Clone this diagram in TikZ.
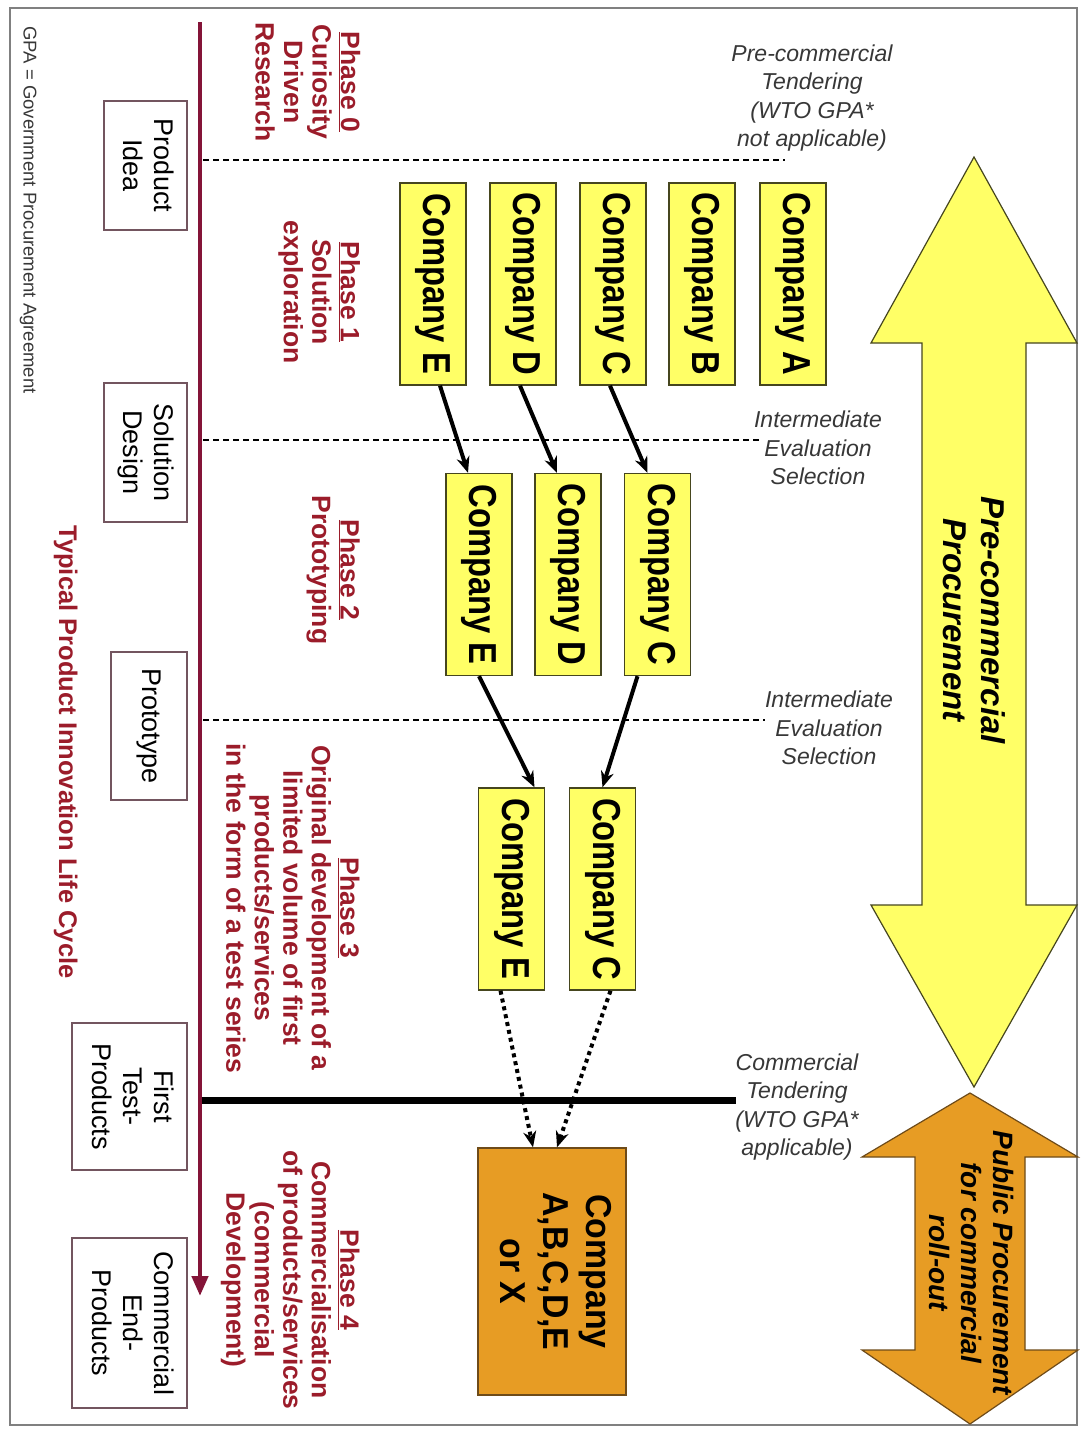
\documentclass[tikz,border=0pt]{standalone}
\usepackage{fontspec}
\setmainfont{Liberation Sans}
\usepackage{graphicx}
\usepackage{tikz}
\usetikzlibrary{arrows.meta,positioning,calc}

\definecolor{phasered}{RGB}{155,28,42}
\definecolor{lifered}{RGB}{132,20,56}
\definecolor{compyellow}{RGB}{255,255,102}
\definecolor{compedge}{RGB}{70,70,30}
\definecolor{winorange}{RGB}{231,156,36}
\definecolor{winedge}{RGB}{110,75,25}
\definecolor{stageedge}{RGB}{115,85,95}
\definecolor{labelgray}{RGB}{55,55,55}

% text turned to read from top to bottom; #1 squeezes it along its length
\newcommand{\vtext}[2][1]{\rotatebox{-90}{\scalebox{#1}[1]{\begin{tabular}{@{}c@{}}#2\end{tabular}}}}

\begin{document}
\begin{tikzpicture}[
    x=1pt, y=-1pt,
    >={Stealth[length=16pt,width=13pt]},
    compbox/.style={draw=compedge,fill=compyellow,line width=1.4pt,inner sep=0pt,
                    minimum width=66pt,minimum height=202pt,
                    font=\bfseries\fontsize{39}{46}\selectfont},
    winbox/.style={draw=winedge,fill=winorange,line width=1.4pt,inner sep=0pt,
                   minimum width=148pt,minimum height=247pt,
                   font=\bfseries\fontsize{36}{43}\selectfont},
    stagebox/.style={draw=stageedge,fill=white,line width=1.4pt,inner sep=0pt,
                     font=\fontsize{27}{31}\selectfont},
    phasetxt/.style={text=phasered,inner sep=0pt,
                     font=\bfseries\fontsize{26.5}{28.5}\selectfont},
    evaltxt/.style={text=labelgray,align=center,inner sep=0pt,
                    font=\itshape\fontsize{23}{28.5}\selectfont},
    bigtxt/.style={inner sep=0pt,font=\bfseries\itshape\fontsize{33}{38}\selectfont},
    flow/.style={->,line width=4pt},
    dotflow/.style={->,line width=4pt,dash pattern=on 4pt off 4pt},
    phaseline/.style={line width=1.2pt,dash pattern=on 6pt off 4pt},
  ]

  \useasboundingbox (0,0) rectangle (1081,1438);
  \draw[gray,line width=1.6pt] (10,8) rectangle (1077,1425);

  % --- life cycle axis and phase borders ---
  \coordinate (lifetop) at (200,22);
  \coordinate (lifeend) at (200,1296);
  \draw[lifered,line width=4.5pt,-{Triangle[length=20pt,width=16pt]}] (lifetop) -- (lifeend);

  \coordinate (b1l) at (203,160);  \coordinate (b1r) at (785,160);
  \coordinate (b2l) at (203,440);  \coordinate (b2r) at (762,440);
  \coordinate (b3l) at (203,720);  \coordinate (b3r) at (765,720);
  \coordinate (b4l) at (202,1100); \coordinate (b4r) at (736,1100);
  \draw[phaseline] (b1l) -- (b1r);
  \draw[phaseline] (b2l) -- (b2r);
  \draw[phaseline] (b3l) -- (b3r);
  \draw[line width=7pt] (b4l) -- (b4r);

  % --- stages of the product ---
  \node[stagebox,minimum width=83pt,minimum height=129pt] (idea)  at (145.5,165.5) {\vtext{Product\\Idea}};
  \node[stagebox,minimum width=83pt,minimum height=139pt] (design) at (145.5,452.5) {\vtext{Solution\\Design}};
  \node[stagebox,minimum width=76pt,minimum height=148pt] (proto) at (149,726)    {\vtext{Prototype}};
  \node[stagebox,minimum width=115pt,minimum height=147pt] (first) at (129.5,1096.5) {\vtext{First\\Test-\\Products}};
  \node[stagebox,minimum width=115pt,minimum height=170pt] (endp) at (129.5,1323) {\vtext{Commercial\\End-\\Products}};

  % --- phase descriptions ---
  \node[phasetxt] (ph0) at (304,82)   {\vtext{\underline{Phase 0}\\Curiosity\\Driven\\Research}};
  \node[phasetxt] (ph1) at (318,292)  {\vtext{\underline{Phase 1}\\Solution\\exploration}};
  \node[phasetxt] (ph2) at (332,570)  {\vtext{\underline{Phase 2}\\Prototyping}};
  \node[phasetxt] (ph3) at (289,908)  {\vtext{\underline{Phase 3}\\Original development of a\\limited volume of first\\products/services\\in the form of a test series}};
  \node[phasetxt] (ph4) at (289,1280) {\vtext{\underline{Phase 4}\\Commercialisation\\of products/services\\(commercial\\Development)}};

  \node[phasetxt,font=\bfseries\fontsize{25.5}{30}\selectfont] (cycle) at (65,752)
    {\vtext{Typical Product Innovation Life Cycle}};
  \node[text=labelgray,inner sep=0pt,font=\fontsize{18.5}{22}\selectfont] (gpa) at (28,210)
    {\vtext{GPA = Government Procurement Agreement}};

  % --- companies, phase by phase ---
  \node[compbox] (c1e) at (433,284) {\vtext[0.84]{Company E}};
  \node[compbox] (c1d) at (523,284) {\vtext[0.84]{Company D}};
  \node[compbox] (c1c) at (613,284) {\vtext[0.84]{Company C}};
  \node[compbox] (c1b) at (702,284) {\vtext[0.84]{Company B}};
  \node[compbox] (c1a) at (793,284) {\vtext[0.84]{Company A}};

  \node[compbox] (c2e) at (479,574.5)   {\vtext[0.84]{Company E}};
  \node[compbox] (c2d) at (568,574.5)   {\vtext[0.84]{Company D}};
  \node[compbox] (c2c) at (657.5,574.5) {\vtext[0.84]{Company C}};

  \node[compbox] (c3e) at (511.5,889) {\vtext[0.84]{Company E}};
  \node[compbox] (c3c) at (602.5,889) {\vtext[0.84]{Company C}};

  \node[winbox] (win) at (552,1271.5) {\vtext[0.94]{Company\\A,B,C,D,E\\or X}};

  \draw[flow] ([xshift=7pt]c1e.south)  -- ([xshift=-11pt]c2e.north);
  \draw[flow] ([xshift=-3pt]c1d.south) -- ([xshift=-11pt]c2d.north);
  \draw[flow] ([xshift=-3pt]c1c.south) -- ([xshift=-10pt]c2c.north);
  \draw[flow] (c2e.south)              -- ([xshift=23pt]c3e.north);
  \draw[flow] ([xshift=-20pt]c2c.south) -- (c3c.north);
  \draw[dotflow] ([xshift=-11pt]c3e.south) -- ([xshift=-19pt]win.north);
  \draw[dotflow] ([xshift=8pt]c3c.south)   -- ([xshift=5pt]win.north);

  % --- selection labels ---
  \node[evaltxt] (tender0) at (812,98)  {Pre-commercial\\Tendering\\(WTO GPA*\\not applicable)};
  \node[evaltxt] (eval1)   at (818,448) {Intermediate\\Evaluation\\Selection};
  \node[evaltxt] (eval2)   at (829,728) {Intermediate\\Evaluation\\Selection};
  \node[evaltxt] (tender1) at (797,1107) {Commercial\\Tendering\\(WTO GPA*\\applicable)};

  % --- procurement spans ---
  \draw[draw=compedge,fill=compyellow,line width=1.2pt]
    (974,157) -- (1077,343) -- (1026,343) -- (1026,905) -- (1077,905) -- (974,1087)
    -- (871,905) -- (922,905) -- (922,343) -- (871,343) -- cycle;
  \node[bigtxt] (pcp) at (970,620) {\vtext{Pre-commercial\\Procurement}};

  \draw[draw=winedge,fill=winorange,line width=1.2pt]
    (970,1093) -- (1078,1157) -- (1025,1157) -- (1025,1350) -- (1078,1350) -- (970,1424)
    -- (862,1350) -- (915,1350) -- (915,1157) -- (862,1157) -- cycle;
  \node[bigtxt,font=\bfseries\itshape\fontsize{28}{32}\selectfont] (ppc) at (968,1263)
    {\vtext{Public Procurement\\for commercial\\roll-out}};

\end{tikzpicture}
\end{document}
